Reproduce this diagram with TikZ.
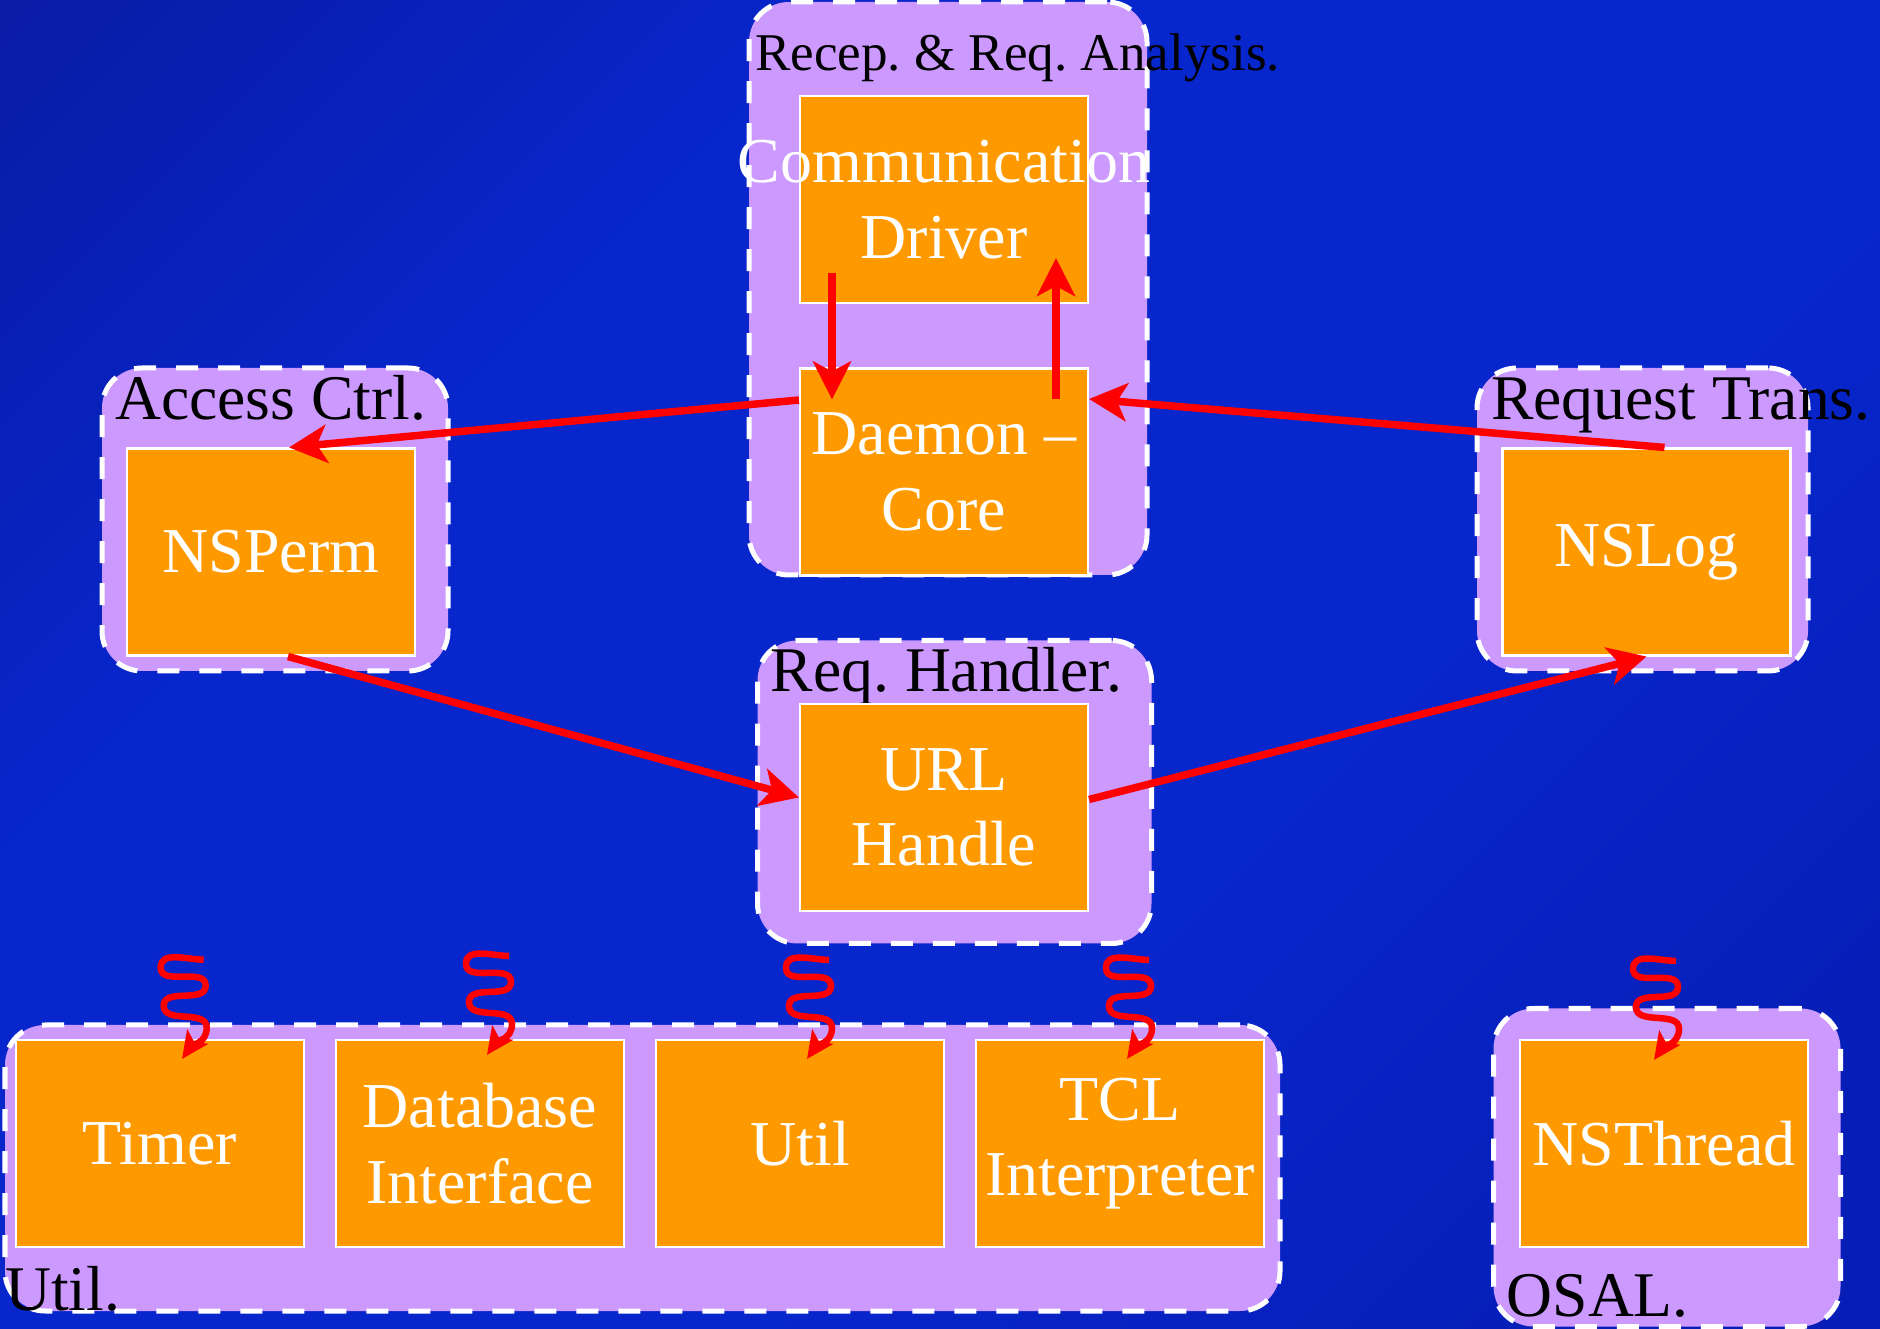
\documentclass[tikz,border=0pt]{standalone}
\usepackage{fontspec}
\setmainfont{Liberation Serif}
\usetikzlibrary{arrows.meta,calc}
\frenchspacing

\definecolor{bgdark}{RGB}{10,26,160}
\definecolor{bgblue}{RGB}{7,38,204}
\definecolor{bgend}{RGB}{6,30,182}
\definecolor{clusterfill}{RGB}{204,153,255}
\definecolor{boxfill}{RGB}{255,153,0}
\pgfdeclareverticalshading{bgshade}{100bp}{color(0bp)=(bgend); color(20bp)=(bgend);
  color(40bp)=(bgblue); color(66bp)=(bgblue); color(88bp)=(bgdark); color(100bp)=(bgdark)}

\begin{document}
\begin{tikzpicture}[
  cluster/.style={draw=white, fill=clusterfill, line width=0.05cm,
    dash pattern=on 0.22cm off 0.2cm, rounded corners=0.4cm},
  module/.style={draw=white, fill=boxfill, line width=0.6pt, minimum width=2.88cm,
    minimum height=2.07cm, inner sep=0pt, align=center, text=white,
    font=\fontsize{18.2}{21.5}\selectfont},
  grouplabel/.style={inner sep=0pt, anchor=base west, font=\fontsize{18.1}{21}\selectfont},
  flow/.style={draw=red, line width=0.075cm, -{Stealth[length=0.38cm, width=0.38cm, inset=0.1cm]}},
  squig/.style={draw=red, line width=0.065cm, -{Stealth[length=0.27cm, width=0.25cm, inset=0.06cm]}}
]

\useasboundingbox (0,0) rectangle (18.8,13.28);
\shade[shading=bgshade, shading angle=45] (0,0) rectangle (18.8,13.28);

% groups
\node[cluster, minimum width=3.98cm, minimum height=5.73cm] (recep) at (9.48,10.395) {};
\node[cluster, minimum width=3.46cm, minimum height=3.03cm] (accessgrp) at (2.75,8.085) {};
\node[cluster, minimum width=3.31cm, minimum height=3.03cm] (transgrp) at (16.425,8.085) {};
\node[cluster, minimum width=3.94cm, minimum height=3.03cm] (handlergrp) at (9.545,5.36) {};
\node[cluster, minimum width=12.75cm, minimum height=2.86cm] (utilgrp) at (6.425,1.6) {};
\node[cluster, minimum width=3.47cm, minimum height=3.18cm] (osalgrp) at (16.67,1.605) {};

\node[grouplabel, font=\fontsize{15.1}{18}\selectfont] (recepl) at ($(recep.north west)+(0.08,-0.71)$) {Recep. \& Req. Analysis.};
\node[grouplabel] (accessl) at ($(accessgrp.north west)+(0.15,-0.54)$) {Access Ctrl.};
\node[grouplabel] (transl) at ($(transgrp.north west)+(0.16,-0.54)$) {Request Trans.};
\node[grouplabel] (handlerl) at ($(handlergrp.north west)+(0.15,-0.54)$) {Req. Handler.};
\node[grouplabel] (utill) at ($(utilgrp.south west)+(0.02,0.03)$) {Util.};
\node[grouplabel] (osall) at ($(osalgrp.south west)+(0.15,0.13)$) {OSAL.};

% modules
\node[module] (comm) at (9.44,11.285) {\makebox[0pt]{Communication}\\Driver};
\node[module] (daemon) at (9.44,8.56) {Daemon --\\Core};
\node[module] (nsperm) at (2.71,7.76) {NSPerm};
\node[module] (nslog) at (16.465,7.76) {NSLog};
\node[module] (url) at (9.44,5.205) {URL\\Handle};
\node[module] (timer) at (1.6,1.845) {Timer};
\node[module] (dbif) at (4.8,1.845) {Database\\Interface};
\node[module] (utilbox) at (8.0,1.845) {Util};
\node[module] (tcl) at (11.2,1.845) {TCL\\Interpreter};
\node[module] (nsthread) at (16.64,1.845) {NSThread};

% calls
\path ([xshift=-1.12cm,yshift=0.31cm]comm.south) edge[flow] ([xshift=-1.12cm,yshift=-0.32cm]daemon.north);
\path ([xshift=1.12cm,yshift=-0.32cm]daemon.north) edge[flow] ([xshift=1.12cm,yshift=0.46cm]comm.south);
\path ([yshift=0.72cm]daemon.west) edge[flow] ([xshift=0.18cm]nsperm.north);
\path ([xshift=0.18cm]nslog.north) edge[flow] ([yshift=0.73cm]daemon.east);
\path ([xshift=0.17cm]nsperm.south) edge[flow] ([yshift=0.1cm]url.west);
\path ([yshift=0.08cm]url.east) edge[flow] (nslog.south);

% threads
\coordinate (timertop) at ([xshift=0.437cm,yshift=0.793cm]timer.north);
\coordinate (timertip) at ([xshift=0.22cm,yshift=-0.2cm]timer.north);
\coordinate (dbiftop) at ([xshift=0.29cm,yshift=0.83cm]dbif.north);
\coordinate (dbiftip) at ([xshift=0.07cm,yshift=-0.16cm]dbif.north);
\coordinate (utiltop) at ([xshift=0.29cm,yshift=0.79cm]utilbox.north);
\coordinate (utiltip) at ([xshift=0.07cm,yshift=-0.2cm]utilbox.north);
\coordinate (tcltop) at ([xshift=0.29cm,yshift=0.79cm]tcl.north);
\coordinate (tcltip) at ([xshift=0.07cm,yshift=-0.2cm]tcl.north);
\coordinate (threadtop) at ([xshift=0.12cm,yshift=0.78cm]nsthread.north);
\coordinate (threadtip) at ([xshift=-0.1cm,yshift=-0.21cm]nsthread.north);

\draw[squig] (timertop) to[out=180,in=90] ++(-0.43,-0.08) to[out=270,in=90] ++(0.45,-0.18) to[out=270,in=90] ++(-0.42,-0.2) to[out=270,in=90] ++(0.43,-0.22) to[out=270,in=55] (timertip);
\draw[squig] (dbiftop) to[out=180,in=90] ++(-0.43,-0.08) to[out=270,in=90] ++(0.45,-0.18) to[out=270,in=90] ++(-0.42,-0.2) to[out=270,in=90] ++(0.43,-0.22) to[out=270,in=55] (dbiftip);
\draw[squig] (utiltop) to[out=180,in=90] ++(-0.43,-0.08) to[out=270,in=90] ++(0.45,-0.18) to[out=270,in=90] ++(-0.42,-0.2) to[out=270,in=90] ++(0.43,-0.22) to[out=270,in=55] (utiltip);
\draw[squig] (tcltop) to[out=180,in=90] ++(-0.43,-0.08) to[out=270,in=90] ++(0.45,-0.18) to[out=270,in=90] ++(-0.42,-0.2) to[out=270,in=90] ++(0.43,-0.22) to[out=270,in=55] (tcltip);
\draw[squig] (threadtop) to[out=180,in=90] ++(-0.43,-0.08) to[out=270,in=90] ++(0.45,-0.18) to[out=270,in=90] ++(-0.42,-0.2) to[out=270,in=90] ++(0.43,-0.22) to[out=270,in=55] (threadtip);

\end{tikzpicture}
\end{document}
